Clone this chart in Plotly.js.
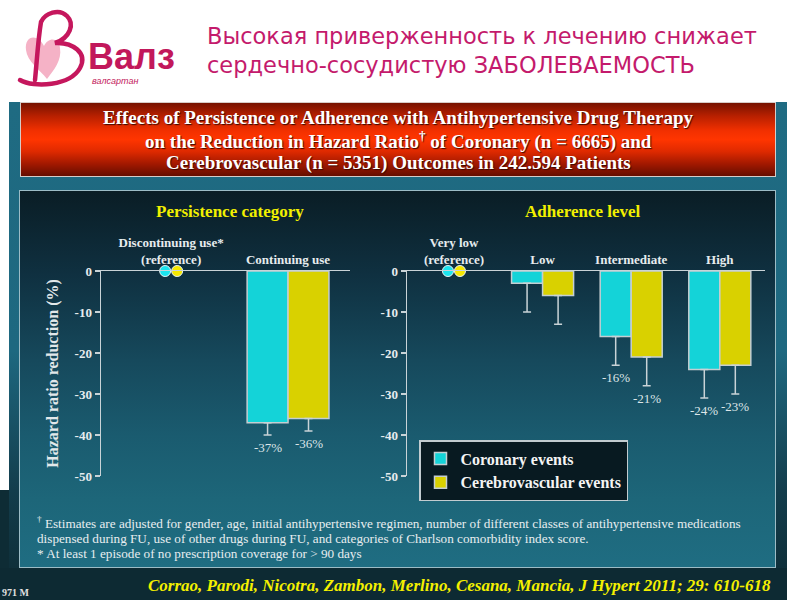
<!DOCTYPE html>
<html>
<head>
<meta charset="utf-8">
<script src="https://cdn.plot.ly/plotly-3.0.1.min.js"></script>
<style>
html,body{margin:0;padding:0;background:#fff;}
#wrap{position:relative;width:800px;height:600px;overflow:hidden;background:#fff;}
.bg{position:absolute;}
#frame{left:9px;top:102px;width:778px;height:498px;background:linear-gradient(to bottom,#1f6b82 0%,#1e6880 50%,#133d4c 78%,#0d2a33 100%);}
#leftstrip{left:0;top:490px;width:9px;height:110px;background:#0e2c35;}
#banner{left:20px;top:102px;width:754px;height:73px;border:1px solid #d6ccc8;background:linear-gradient(to bottom,#761200 0%,#b82000 18%,#f23000 38%,#ff3500 50%,#e02a00 66%,#a01800 84%,#650d00 100%);}
#panel{left:19px;top:190px;width:755px;height:376px;border:1px solid #9cbcc6;background:linear-gradient(to bottom,#0a1d25 0%,#0f3040 22%,#16495c 45%,#1a5b6f 65%,#1d6679 82%,#1f6d82 100%);}
#bottom{left:0;top:568px;width:787px;height:32px;background:#0d2a33;}
#logo{left:0;top:0;width:90px;height:95px;}
#chart{position:absolute;left:0;top:0;width:800px;height:600px;}
</style>
</head>
<body>
<div id="wrap">
  <div class="bg" id="frame"></div>
  <div class="bg" id="leftstrip"></div>
  <div class="bg" id="bottom"></div>
  <div class="bg" id="banner"></div>
  <div class="bg" id="panel"></div>
  <svg class="bg" id="logo" viewBox="0 0 90 95" xmlns="http://www.w3.org/2000/svg">
    <path d="M44,46 C38,33 24,35 26,50 C27,61 40,70 47,79 C54,70 62,60 60,48 C59,37 48,37 44,46 Z" fill="#f5b2c6"/>
    <path d="M20,80 C34,88 70,86 80,68 C88,53 73,42 55,43 C70,38 75,24 67,16 C59,8 45,13 41,22 C38,40 37,60 35,80" fill="none" stroke="#c5175d" stroke-width="4.5" stroke-linecap="round"/>
  </svg>
  <div id="chart"></div>
</div>
<script>
// ---------------- data ----------------
const persistenceCategories = ['Discontinuing use*<br>(reference)', 'Continuing use'];
const adherenceCategories = ['Very low<br>(reference)', 'Low', 'Intermediate', 'High'];
const referenceIndex = 0;

const coronaryPersistence = [0, -37];
const cerebroPersistence = [0, -36];
const coronaryPersistenceLower = [null, -40];
const cerebroPersistenceLower = [null, -39];
const coronaryPersistenceLabels = ['', '-37%'];
const cerebroPersistenceLabels = ['', '-36%'];

const coronaryAdherence = [0, -3, -16, -24];
const cerebroAdherence = [0, -6, -21, -23];
const coronaryAdherenceLower = [null, -10, -23, -31];
const cerebroAdherenceLower = [null, -13, -28, -30];
const coronaryAdherenceLabels = ['', '', '-16%', '-24%'];
const cerebroAdherenceLabels = ['', '', '-21%', '-23%'];

const yTicks = [0, -10, -20, -30, -40, -50];
const seriesNames = ['Coronary events', 'Cerebrovascular events'];

// ---------------- style ----------------
const SERIF = 'Liberation Serif, Times New Roman, serif';
const SANS = 'Liberation Sans, Arial, sans-serif';
const CYAN = '#14d3d8';
const YELLOW = '#d9d100';
const AXIS = '#c9d3d7';
const LIGHT = '#e6ecee';
const BARGAP = 0.3;
const HALF = (1 - BARGAP) / 4;
const W = 800, H = 600;
const px = v => v / W;
const py = v => 1 - v / H;

const leftDom = [101, 350], rightDom = [407, 765];
const leftRange = [-0.6, 1.53], rightRange = [-0.53, 3.51];
const yDom = [py(476), py(271)];
const DOT_PX = 6;
const unitPx = (dom, rng) => (dom[1] - dom[0]) / (rng[1] - rng[0]);

const idx = arr => arr.map((_, i) => i);
const noRef = arr => arr.map((v, i) => i === referenceIndex ? null : v);
const minus = (vals, lows) => vals.map((v, i) => lows[i] == null ? null : v - lows[i]);

function barTrace(cats, vals, lows, color, name, xa, ya, showlegend) {
  return {
    type: 'bar', x: idx(cats), y: noRef(vals), name: name, showlegend: showlegend,
    legendgroup: name, xaxis: xa, yaxis: ya,
    marker: {color: color, line: {color: '#c4ced2', width: 1.5}},
    error_y: {type: 'data', symmetric: false, array: vals.map(() => 0),
              arrayminus: minus(vals, lows), color: AXIS, thickness: 1.5, width: 4},
    hoverinfo: 'skip'
  };
}
function dotTrace(vals, color, shiftPx, dom, rng, xa, ya, name) {
  const off = shiftPx / unitPx(dom, rng);
  return {
    type: 'scatter', mode: 'markers', x: [referenceIndex + off], y: [vals[referenceIndex]],
    xaxis: xa, yaxis: ya, showlegend: false, name: name, cliponaxis: false,
    marker: {size: 11, color: color, line: {color: '#e8f4f4', width: 1}}, hoverinfo: 'skip'
  };
}

const data = [
  barTrace(persistenceCategories, coronaryPersistence, coronaryPersistenceLower, CYAN, seriesNames[0], 'x', 'y', true),
  barTrace(persistenceCategories, cerebroPersistence, cerebroPersistenceLower, YELLOW, seriesNames[1], 'x', 'y', true),
  barTrace(adherenceCategories, coronaryAdherence, coronaryAdherenceLower, CYAN, seriesNames[0], 'x2', 'y2', false),
  barTrace(adherenceCategories, cerebroAdherence, cerebroAdherenceLower, YELLOW, seriesNames[1], 'x2', 'y2', false),
  dotTrace(coronaryPersistence, '#1be4ee', -DOT_PX, leftDom, leftRange, 'x', 'y', seriesNames[0]),
  dotTrace(cerebroPersistence, '#f6e800', DOT_PX, leftDom, leftRange, 'x', 'y', seriesNames[1]),
  dotTrace(coronaryAdherence, '#1be4ee', -DOT_PX, rightDom, rightRange, 'x2', 'y2', seriesNames[0]),
  dotTrace(cerebroAdherence, '#f6e800', DOT_PX, rightDom, rightRange, 'x2', 'y2', seriesNames[1])
];

const valFont = {family: SERIF, size: 13, color: '#dde5e8'};
function labelAnns(labels, lows, xref, yref, dx) {
  return labels.map((t, i) => t ? {
    x: i + dx, y: lows[i], xref: xref, yref: yref, text: t, showarrow: false,
    yanchor: 'top', yshift: -3, font: valFont
  } : null).filter(Boolean);
}
const txt = (text, x, y, font, extra) => Object.assign({
  text: text, x: px(x), y: py(y), xref: 'paper', yref: 'paper', showarrow: false,
  xanchor: 'center', yanchor: 'middle', font: font
}, extra || {});

const bannerFont = {family: SERIF, size: 19, color: '#ffffff', weight: 'bold', shadow: '1px 1px 1px #3a0800'};
const noteFont = {family: SERIF, size: 13.2, color: '#e8eef0'};
const annotations = [
  txt('Валз', 86, 57, {family: SANS, size: 36, color: '#c2185b', weight: 'bold'}, {xanchor: 'left'}),
  txt('валсартан', 90, 81, {family: SANS, size: 9, color: '#c2185b', style: 'italic'}, {xanchor: 'left'}),
  txt('Effects of Persistence or Adherence with Antihypertensive Drug Therapy', 398, 117, bannerFont),
  txt('on the Reduction in Hazard Ratio<sup>†</sup> of Coronary (n = 6665) and', 398, 140, bannerFont),
  txt('Cerebrovascular (n = 5351) Outcomes in 242.594 Patients', 398, 163, bannerFont),
  txt('Persistence category', 230, 211, {family: SERIF, size: 17, color: '#f2f000', weight: 'bold'}),
  txt('Adherence level', 583, 211, {family: SERIF, size: 17, color: '#f2f000', weight: 'bold'}),
  txt('<sup>†</sup> Estimates are adjusted for gender, age, initial antihypertensive regimen, number of different classes of antihypertensive medications',
      35, 522, noteFont, {xanchor: 'left'}),
  txt('dispensed during FU, use of other drugs during FU, and categories of Charlson comorbidity index score.',
      35, 538, noteFont, {xanchor: 'left'}),
  txt('* At least 1 episode of no prescription coverage for &gt; 90 days',
      35, 553, noteFont, {xanchor: 'left'}),
  txt('Corrao, Parodi, Nicotra, Zambon, Merlino, Cesana, Mancia, J Hypert 2011; 29: 610-618', 773, 585,
      {family: SERIF, size: 17, color: '#f4f000', weight: 'bold', style: 'italic'}, {xanchor: 'right'}),
  txt('971 M', 0, 592, {family: SERIF, size: 10, color: '#e0e0e0', weight: 'bold'}, {xanchor: 'left'})
].concat(
  labelAnns(coronaryPersistenceLabels, coronaryPersistenceLower, 'x', 'y', -HALF),
  labelAnns(cerebroPersistenceLabels, cerebroPersistenceLower, 'x', 'y', HALF),
  labelAnns(coronaryAdherenceLabels, coronaryAdherenceLower, 'x2', 'y2', -HALF),
  labelAnns(cerebroAdherenceLabels, cerebroAdherenceLower, 'x2', 'y2', HALF)
);

const xCommon = {side: 'top', showline: true, linecolor: AXIS, linewidth: 1.5, ticks: '',
  showgrid: false, zeroline: false, fixedrange: true,
  tickfont: {family: SERIF, size: 13, color: LIGHT, weight: 'bold'}};
const yCommon = {domain: yDom, range: [-50, 0], tickvals: yTicks, ticktext: yTicks.map(String),
  ticks: 'outside', ticklen: 5, tickwidth: 1.5, tickcolor: AXIS, showline: true, linecolor: AXIS,
  linewidth: 1.5, showgrid: false, zeroline: false, fixedrange: true,
  tickfont: {family: SERIF, size: 13, color: LIGHT, weight: 'bold'}};

const layout = {
  width: W, height: H, margin: {l: 0, r: 0, t: 0, b: 0},
  paper_bgcolor: 'rgba(0,0,0,0)', plot_bgcolor: 'rgba(0,0,0,0)',
  barmode: 'group', bargap: BARGAP, bargroupgap: 0,
  title: {text: 'Высокая приверженность к лечению снижает<br>сердечно-сосудистую ЗАБОЛЕВАЕМОСТЬ',
    x: px(207), xanchor: 'left', xref: 'paper', y: py(44), yref: 'paper', yanchor: 'middle',
    font: {family: 'DejaVu Sans, Verdana, sans-serif', size: 22.5, color: '#c41a6c'}},
  xaxis: Object.assign({}, xCommon, {domain: [px(leftDom[0]), px(leftDom[1])], anchor: 'y',
    range: leftRange, tickvals: idx(persistenceCategories), ticktext: persistenceCategories}),
  xaxis2: Object.assign({}, xCommon, {domain: [px(rightDom[0]), px(rightDom[1])], anchor: 'y2',
    range: rightRange, tickvals: idx(adherenceCategories), ticktext: adherenceCategories}),
  yaxis: Object.assign({}, yCommon, {anchor: 'x',
    title: {text: 'Hazard ratio reduction (%)', standoff: 12,
      font: {family: SERIF, size: 16, color: '#e2e8ea', weight: 'bold'}}}),
  yaxis2: Object.assign({}, yCommon, {anchor: 'x2'}),
  legend: {x: px(419), y: py(440), xanchor: 'left', yanchor: 'top', bgcolor: '#081a21',
    bordercolor: '#c2ccd0', borderwidth: 1.5, tracegroupgap: 4, traceorder: 'normal',
    font: {family: SERIF, size: 16, color: '#f4f4f4', weight: 'bold'}},
  annotations: annotations,
  showlegend: true
};

Plotly.newPlot('chart', data, layout, {displayModeBar: false, staticPlot: true});
</script>
</body>
</html>
